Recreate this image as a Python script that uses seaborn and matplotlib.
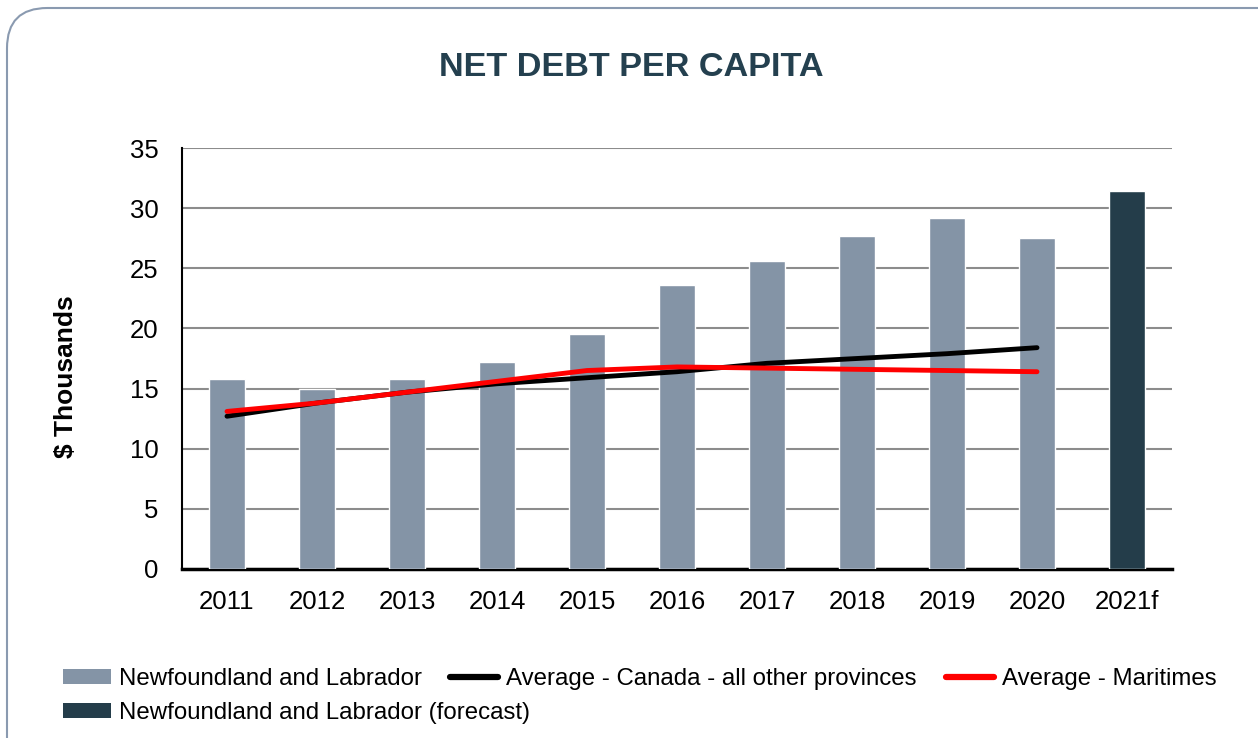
import matplotlib
matplotlib.use("Agg")
import matplotlib.pyplot as plt
from matplotlib.patches import FancyBboxPatch, Patch
from matplotlib.lines import Line2D
import numpy as np
import pandas as pd
import seaborn as sns

# Net debt per capita, $ thousands
years = ["2011", "2012", "2013", "2014", "2015", "2016", "2017", "2018", "2019", "2020", "2021f"]
nl_values = [15.8, 15.0, 15.8, 17.2, 19.5, 23.6, 25.6, 27.7, 29.2, 27.5, 31.4]
nl_kind = ["actual"] * 10 + ["forecast"]
canada_avg = [12.7, 13.8, 14.7, 15.4, 15.9, 16.4, 17.1, 17.5, 17.9, 18.4]
maritimes_avg = [13.1, 13.8, 14.7, 15.6, 16.5, 16.8, 16.7, 16.6, 16.5, 16.4]

BAR_GREY = "#8494A6"
BAR_DARK = "#243D4A"
TITLE_COLOR = "#24404F"

sns.set_theme(style="white")
plt.rcParams["font.family"] = ["Liberation Sans", "DejaVu Sans"]

W, H = 1258, 738
fig = plt.figure(figsize=(W / 100, H / 100), dpi=100)
ax = fig.add_axes([182 / W, 1 - 569 / H, 990 / W, 421 / H])

# rounded frame around the whole chart
frame = FancyBboxPatch((7 / W, -0.1), 1.2, 1.1 - 8 / H,
                       boxstyle="round,pad=0,rounding_size=0.032",
                       transform=fig.transFigure, facecolor="none",
                       edgecolor="#8A9AB0", linewidth=1.5, mutation_aspect=W / H)
fig.patches.append(frame)

df = pd.DataFrame({"year": years, "value": nl_values, "kind": nl_kind})
sns.barplot(data=df, x="year", y="value", hue="kind",
            palette={"actual": BAR_GREY, "forecast": BAR_DARK},
            dodge=False, width=0.4, legend=False, ax=ax, zorder=3,
            saturation=1)

xpos = np.arange(len(canada_avg))
sns.lineplot(x=xpos, y=canada_avg, color="black", linewidth=3.5, ax=ax,
             zorder=4, solid_capstyle="round")
sns.lineplot(x=xpos, y=maritimes_avg, color="#FF0000", linewidth=3.5, ax=ax,
             zorder=5, solid_capstyle="round")

ax.set_xlim(-0.5, len(years) - 0.5)
ax.set_ylim(0, 35)
ax.set_yticks(range(0, 36, 5))
ax.yaxis.grid(True, color="#8C8C8C", linewidth=1.5, zorder=0)
ax.set_axisbelow(True)
for side in ("top", "right"):
    ax.spines[side].set_visible(False)
ax.spines["left"].set_color("black")
ax.spines["left"].set_linewidth(1.5)
ax.spines["bottom"].set_color("black")
ax.spines["bottom"].set_linewidth(2.5)
ax.tick_params(axis="both", length=0, labelsize=18.5, colors="black")
ax.tick_params(axis="y", pad=17)
ax.tick_params(axis="x", pad=15)
ax.set_xlabel("")
ax.set_ylabel("")

fig.text(66 / W, 1 - 377 / H, "$ Thousands", rotation=90, ha="center", va="center",
         fontsize=19, fontweight="bold", color="black")
fig.text(631 / W, 1 - 67 / H, "NET DEBT PER CAPITA", ha="center", va="center",
         fontsize=24.7, fontweight="bold", color=TITLE_COLOR)

legend_font = {"family": ["Liberation Sans", "DejaVu Sans"], "size": 17.3}
row1 = [
    Patch(facecolor=BAR_GREY, edgecolor="none", label="Newfoundland and Labrador"),
    Line2D([], [], color="black", linewidth=4.5, solid_capstyle="round",
           label="Average - Canada - all other provinces"),
    Line2D([], [], color="#FF0000", linewidth=4.5, solid_capstyle="round",
           label="Average - Maritimes"),
]
leg1 = fig.legend(handles=row1, loc="center left", bbox_to_anchor=(41 / W, 1 - 679 / H),
                  ncol=3, frameon=False, prop=legend_font, handlelength=2.0,
                  handleheight=0.62, handletextpad=0.33, columnspacing=1.2,
                  labelcolor="black")
row2 = [Patch(facecolor=BAR_DARK, edgecolor="none", label="Newfoundland and Labrador (forecast)")]
leg2 = fig.legend(handles=row2, loc="center left", bbox_to_anchor=(41 / W, 1 - 713 / H),
                  ncol=1, frameon=False, prop=legend_font, handlelength=2.0,
                  handleheight=0.62, handletextpad=0.33, labelcolor="black")

fig.savefig("out.png", dpi=100, facecolor="white")
